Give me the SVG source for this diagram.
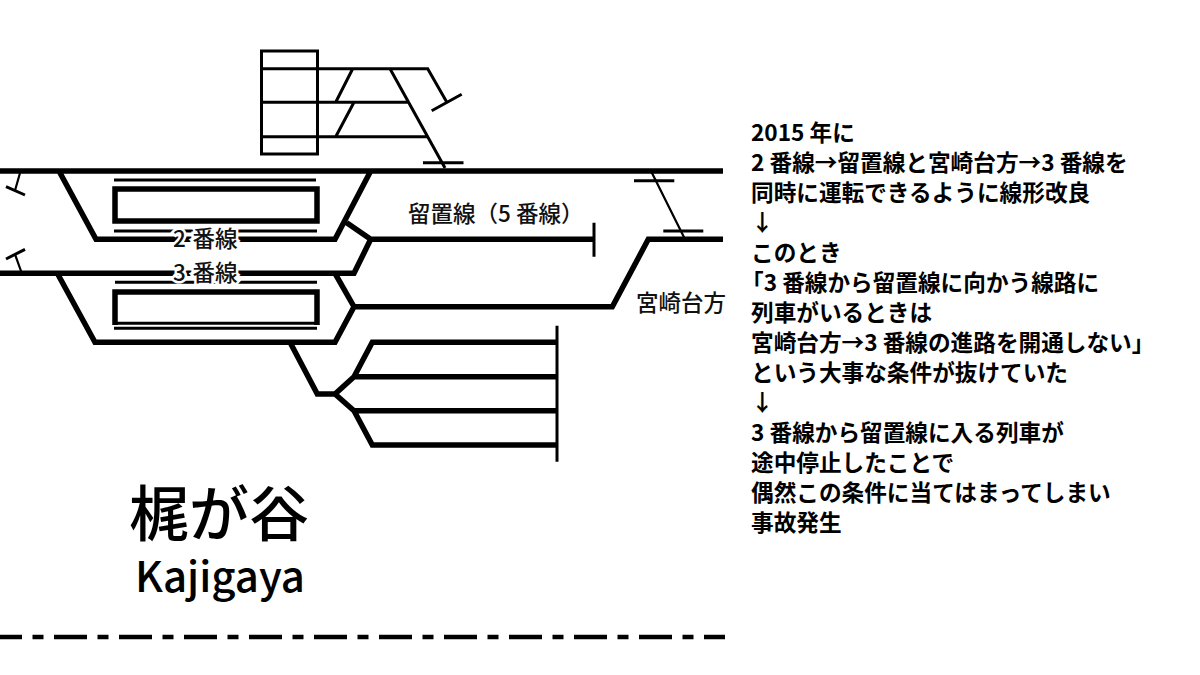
<svg xmlns="http://www.w3.org/2000/svg" width="1200" height="675" viewBox="0 0 1200 675">
<style>
.t{fill:none;stroke:#000;stroke-linejoin:miter;stroke-linecap:butt}
.w5{stroke-width:5.5}
.w3{stroke-width:3}
.w2{stroke-width:2.2}
text{font-family:"Noto Sans CJK JP","Noto Sans",sans-serif;fill:#111}
.b{font-size:22.65px;font-weight:700;fill:#000}
.l{font-size:22.5px;font-weight:500}
.h{paint-order:stroke;stroke:#fff;stroke-width:5px;word-spacing:1.5px}
</style>
<rect width="1200" height="675" fill="#fff"/>
<g id="connectors">
<path class="t w5" d="M0 171H723M59 171L96 239.3H335L370.7 171M346.7 222.7L370.7 239.3H593M370.7 239.3L354 273.3H0M57.3 273.3L95 342.3H335L354 306.7L335 273.3M354 306.7H612.3L648.3 239.3H723"/>
<path class="t w5" d="M290 342.3L317.3 394H335L354 376.7L372.3 342.3H557M354 376.7H557M335 394L354 410.7H557M354 410.7L372.3 445H557"/>
<path class="t w3" d="M594 222.7V256.7M557 325.7V461.7M114 180H316M114 231H317M115 282.3H317M114 328.3H317"/>
<path class="t w3" d="M261 68.7H427.7L446.7 102M261 102.3H408M261 136.7H426.7M390 68.7L445 168M352.7 68.7L335.7 102.3M354 102.3L335.7 136.7M423 162.7H463.5M431.7 110.7L461.7 94.3M634 180.7H674.3M663.3 231H703.3"/>
<path class="t w2" d="M651 171L685 239.3M20 173L15 190.5M15 254.3L21.7 273"/>
<path class="t w3" d="M6 186.7L25 195M6 259L25 249.3"/>
<path class="t" stroke-width="4.5" stroke-dasharray="33 10.5 11 10.5" stroke-dashoffset="11" d="M0 637H725"/>
</g>
<g id="station-block"><rect class="t w3" x="261.5" y="51" width="56" height="103"/></g>
<g id="platform-1"><rect class="t w5" x="115" y="189" width="202" height="32"/></g>
<g id="platform-2"><path class="t w5" d="M115 325V292H317V325"/><path class="t w3" d="M115 323.3H317"/></g>
<g id="label-2"><text class="l h" x="173" y="246.5">2 番線</text></g>
<g id="label-3"><text class="l h" x="173" y="281">3 番線</text></g>
<g id="label-5"><text class="l" x="408" y="222">留置線（5 番線）</text></g>
<g id="label-miyazakidai"><text class="l" x="636" y="311">宮崎台方</text></g>
<g id="station-name">
<text x="129" y="536" font-size="60" font-weight="500" style="fill:#000">梶が谷</text>
<text x="135" y="592" font-size="42" font-weight="500" style="fill:#000">Kajigaya</text>
</g>
<g id="note">
<text class="b" x="751" y="140.5">2015 年に</text>
<text class="b" x="751" y="170.5">2 番線→留置線と宮崎台方→3 番線を</text>
<text class="b" x="751" y="200.5">同時に運転できるように線形改良</text>
<text class="b" x="751" y="230.5">↓</text>
<text class="b" x="751" y="260.5">このとき</text>
<text class="b" x="741" y="290.5">「3 番線から留置線に向かう線路に</text>
<text class="b" x="751" y="320.5">列車がいるときは</text>
<text class="b" x="751" y="350.5">宮崎台方→3 番線の進路を開通しない」</text>
<text class="b" x="751" y="380.5">という大事な条件が抜けていた</text>
<text class="b" x="751" y="410.5">↓</text>
<text class="b" x="751" y="440.5">3 番線から留置線に入る列車が</text>
<text class="b" x="751" y="470.5">途中停止したことで</text>
<text class="b" x="751" y="500.5">偶然この条件に当てはまってしまい</text>
<text class="b" x="751" y="530.5">事故発生</text>
</g>
</svg>
